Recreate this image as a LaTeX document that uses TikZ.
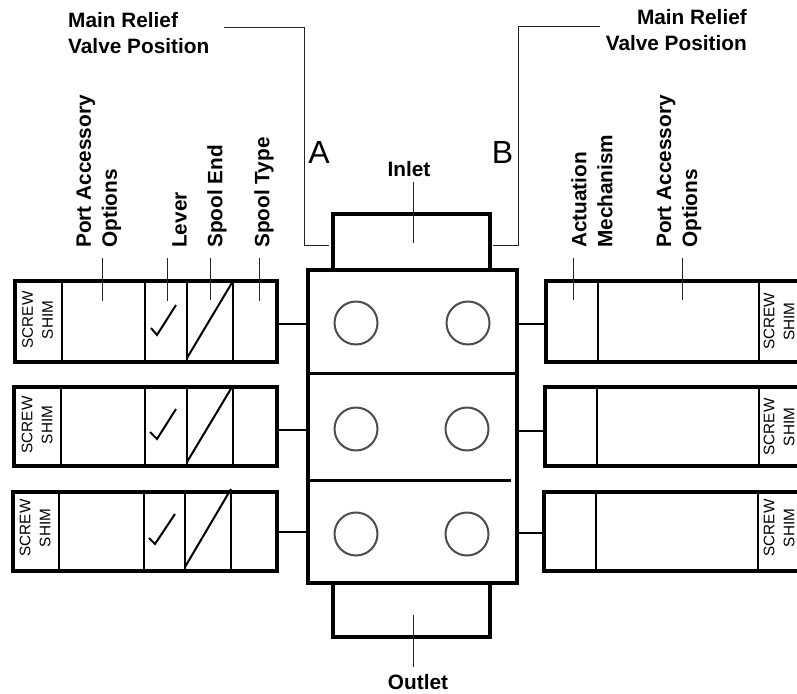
\documentclass[tikz,border=0pt]{standalone}
\usepackage{fontspec}
\setmainfont{Liberation Sans}
\tikzstyle{panel}=[rectangle,draw=black,line width=3.2pt,inner sep=0pt]
\tikzstyle{port}=[circle,draw=black!70,line width=2pt,minimum size=43pt,inner sep=0pt]
\tikzstyle{divider}=[line width=2pt,black]
\tikzstyle{link}=[line width=2pt,black]
\tikzstyle{leader}=[line width=1pt,black!85]
\tikzstyle{stroke}=[line width=2pt,black]
\tikzstyle{title}=[font=\bfseries\fontsize{20.8}{26}\selectfont,inner xsep=10pt,inner ysep=0pt,align=left]
\tikzstyle{side}=[title,rotate=90,anchor=west]
\tikzstyle{shim}=[font=\fontsize{15.3}{20}\selectfont,rotate=90,align=center,inner sep=0pt]
\tikzstyle{letter}=[font=\fontsize{32}{32}\selectfont,inner sep=0pt]

\begin{document}
\begin{tikzpicture}[x=1pt,y=-1pt]
            \path [use as bounding box,clip] (0,0) rectangle (797,693);
            % valve block
            \node (inlet)[panel,minimum width=157pt,minimum height=56pt] at (411.5,242){};
            \node (outlet)[panel,minimum width=157pt,minimum height=54pt] at (411.5,610){};
            \node (body)[panel,fill=white,minimum width=209pt,minimum height=313pt] at (412.5,426.5){};
            \draw [line width=3pt] (body.west |- 0,373) -- (body.east |- 0,373);
            \draw [line width=3pt] (body.west |- 0,480) -- (511,480);
            \node (portLA)[port] at (356,323){};
            \node (portRA)[port] at (468,323){};
            \node (portLB)[port] at (356,429){};
            \node (portRB)[port] at (467,429){};
            \node (portLC)[port] at (356,534){};
            \node (portRC)[port] at (467,534){};
            % left panels
            \node (panelLA)[panel,minimum width=262pt,minimum height=81pt] at (146,321.5){};
            \node (panelLB)[panel,minimum width=263pt,minimum height=79pt] at (145.5,426.5){};
            \node (panelLC)[panel,minimum width=264pt,minimum height=79pt] at (145,531.5){};
            \draw [divider] (panelLA.north -| 62,0) -- (panelLA.south -| 62,0);
            \draw [divider] (panelLA.north -| 145,0) -- (panelLA.south -| 145,0);
            \draw [divider] (panelLA.north -| 187,0) -- (panelLA.south -| 187,0);
            \draw [divider] (panelLA.north -| 233,0) -- (panelLA.south -| 233,0);
            \draw [divider] (panelLB.north -| 61,0) -- (panelLB.south -| 61,0);
            \draw [divider] (panelLB.north -| 145,0) -- (panelLB.south -| 145,0);
            \draw [divider] (panelLB.north -| 187,0) -- (panelLB.south -| 187,0);
            \draw [divider] (panelLB.north -| 233,0) -- (panelLB.south -| 233,0);
            \draw [divider] (panelLC.north -| 59,0) -- (panelLC.south -| 59,0);
            \draw [divider] (panelLC.north -| 144,0) -- (panelLC.south -| 144,0);
            \draw [divider] (panelLC.north -| 185,0) -- (panelLC.south -| 185,0);
            \draw [divider] (panelLC.north -| 231,0) -- (panelLC.south -| 231,0);
            \draw [stroke] (187,358) -- (233,281);
            \draw [stroke] (187,462) -- (232,387);
            \draw [stroke] (185,567) -- (231,489);
            \draw [stroke] (151,328) -- (157,335) -- (176,305);
            \draw [stroke] (150,432) -- (157,439) -- (176,409);
            \draw [stroke] (149,538) -- (155,544) -- (175,514);
            \node (shimLA)[shim] at (37.5,320){SCREW\\SHIM};
            \node (shimLB)[shim] at (37,425){SCREW\\SHIM};
            \node (shimLC)[shim] at (35,528){SCREW\\SHIM};
            % right panels
            \node (panelRA)[panel,minimum width=264pt,minimum height=81pt] at (678,321.5){};
            \node (panelRB)[panel,minimum width=265pt,minimum height=79pt] at (677.5,426.5){};
            \node (panelRC)[panel,minimum width=266pt,minimum height=79pt] at (677,531.5){};
            \draw [divider] (panelRA.north -| 598,0) -- (panelRA.south -| 598,0);
            \draw [divider] (panelRA.north -| 759,0) -- (panelRA.south -| 759,0);
            \draw [divider] (panelRB.north -| 597,0) -- (panelRB.south -| 597,0);
            \draw [divider] (panelRB.north -| 759,0) -- (panelRB.south -| 759,0);
            \draw [divider] (panelRC.north -| 596,0) -- (panelRC.south -| 596,0);
            \draw [divider] (panelRC.north -| 758,0) -- (panelRC.south -| 758,0);
            \node (shimRA)[shim] at (779,321.5){SCREW\\SHIM};
            \node (shimRB)[shim] at (779,427){SCREW\\SHIM};
            \node (shimRC)[shim] at (779,528){SCREW\\SHIM};
            % links to the block
            \coordinate (tieLA) at (277,324);
            \coordinate (tieLB) at (277,430);
            \coordinate (tieLC) at (277,532);
            \coordinate (tieRA) at (546,324);
            \coordinate (tieRB) at (546,431);
            \coordinate (tieRC) at (544,533);
            \draw [link] (tieLA) -- (tieLA -| body.west);
            \draw [link] (tieLB) -- (tieLB -| body.west);
            \draw [link] (tieLC) -- (tieLC -| body.west);
            \draw [link] (tieRA) -- (tieRA -| body.east);
            \draw [link] (tieRB) -- (tieRB -| body.east);
            \draw [link] (tieRC) -- (tieRC -| body.east);
            % labels
            \node (letterA)[letter] at (319,152.5){A};
            \node (letterB)[letter] at (502.5,152.5){B};
            \node (reliefA)[title,anchor=west,inner xsep=15pt] at (53,33){Main Relief\\Valve Position};
            \node (reliefB)[title,anchor=east,inner xsep=6pt,align=right] at (753,30){Main Relief\\Valve Position};
            \coordinate (kneeA) at (304,28);
            \coordinate (tipA) at (329,245);
            \coordinate (kneeB) at (518,27);
            \coordinate (tipB) at (493,245);
            \draw [leader] (reliefA.east |- kneeA) -- (kneeA) |- (tipA);
            \draw [leader] (reliefB.west |- kneeB) -- (kneeB) |- (tipB);
            \node (portL)[side] at (99,258){Port Accessory\\Options};
            \node (lever)[side] at (179.5,258){Lever};
            \node (spoolEnd)[side] at (217,258){Spool End};
            \node (spoolType)[side] at (264,258){Spool Type};
            \node (actuation)[side] at (592,258){Actuation\\Mechanism};
            \node (portR)[side] at (679,258){Port Accessory\\Options};
            \coordinate (endPortL) at (102,301);
            \coordinate (endLever) at (167,301);
            \coordinate (endSpoolEnd) at (210,300);
            \coordinate (endSpoolType) at (259,301);
            \coordinate (endActuation) at (573,300);
            \coordinate (endPortR) at (682,300);
            \draw [leader] (portL.west -| endPortL) -- (endPortL);
            \draw [leader] (lever.west -| endLever) -- (endLever);
            \draw [leader] (spoolEnd.west -| endSpoolEnd) -- (endSpoolEnd);
            \draw [leader] (spoolType.west -| endSpoolType) -- (endSpoolType);
            \draw [leader] (actuation.west -| endActuation) -- (endActuation);
            \draw [leader] (portR.west -| endPortR) -- (endPortR);
            \node (inletText)[title,inner xsep=0pt,inner ysep=5pt] at (409,169.5){Inlet};
            \node (outletText)[title,inner xsep=0pt] at (418,682.5){Outlet};
            \coordinate (endInlet) at (413,243);
            \coordinate (endOutlet) at (413,615);
            \draw [leader] (inletText.south -| endInlet) -- (endInlet);
            \draw [leader] (outletText.north -| endOutlet) ++(0,-8) -- (endOutlet);
        \end{tikzpicture}
\end{document}
